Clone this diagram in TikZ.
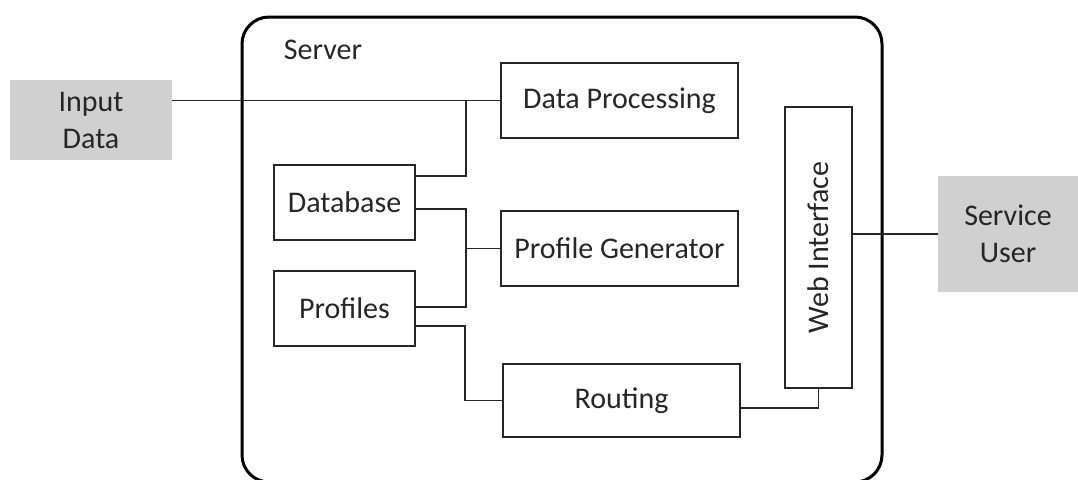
\documentclass[tikz,border=0pt]{standalone}
\usepackage{fontspec}
\setmainfont{Carlito}
\usepackage{xcolor}
\definecolor{extgray}{HTML}{D0D0D0}
\definecolor{ink}{HTML}{262626}

\tikzset{
    module/.style={draw=ink, line width=1.8pt, fill=white, inner sep=0pt, text=ink,
                   font=\fontsize{30}{37}\selectfont},
    external/.style={fill=extgray, inner sep=0pt, text=ink, align=center,
                     font=\fontsize{30}{37}\selectfont},
    link/.style={draw=ink, line width=1.6pt},
}

\begin{document}
\begin{tikzpicture}[x=1pt, y=-1pt]
        \useasboundingbox (0,0) rectangle (1078,479);
        \clip (0,0) rectangle (1078,479);

        % server frame
        \draw[black, line width=3pt, rounded corners=27pt] (242,17) rectangle (882,482);
        \node[text=ink, font=\fontsize{30}{37}\selectfont] (serverlabel) at (323,50) {Server};

        % outside the server
        \node[external, minimum width=162pt, minimum height=80pt] (input) at (91,120) {Input\\Data};
        \node[external, minimum width=140pt, minimum height=116pt] (service) at (1008,234) {Service\\User};

        % modules
        \node[module, minimum width=237pt, minimum height=75pt] (dataproc) at (619.5,100.5) {Data Processing};
        \node[module, minimum width=141pt, minimum height=75pt] (database) at (344.5,202.5) {Database};
        \node[module, minimum width=237pt, minimum height=75pt] (profgen) at (619.5,248.5) {Profile Generator};
        \node[module, minimum width=141pt, minimum height=75pt] (profiles) at (344.5,308.5) {Profiles};
        \node[module, minimum width=237pt, minimum height=73pt] (routing) at (621.5,400.5) {Routing};
        \node[module, minimum width=281pt, minimum height=67pt, rotate=90] (web) at (818.5,247.5) {Web Interface};

        % connections
        \draw[link] (input.east |- dataproc.west) -- (dataproc.west);
        \draw[link] (dataproc.west) -- ++(-34,0) |- ([yshift=26.5pt]database.east);
        \draw[link] ([yshift=-6.5pt]database.east) -| ([xshift=-34pt]profgen.west) |- ([yshift=1.5pt]profiles.east);
        \draw[link] (profgen.west) -- ++(-34,0);
        \draw[link] ([yshift=-17.5pt]profiles.east) -| ([xshift=-37pt]routing.west) -- (routing.west);
        \draw[link] ([yshift=-7.5pt]routing.east) -| (web.west);
        \draw[link] (web.south |- service.west) -- (service.west);
\end{tikzpicture}
\end{document}
